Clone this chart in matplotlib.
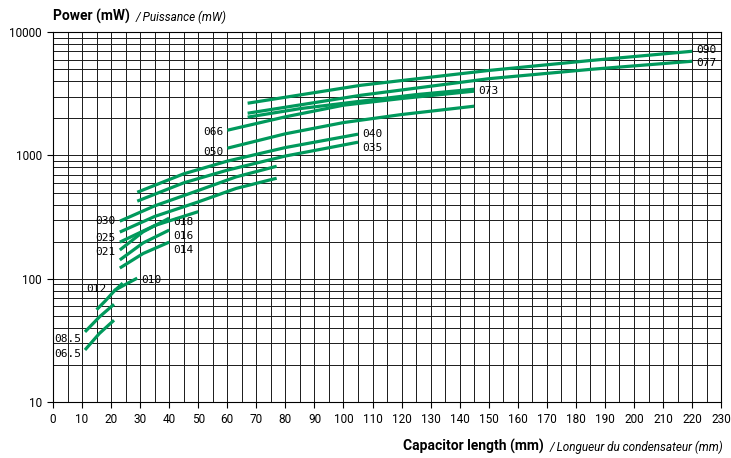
import matplotlib
matplotlib.use("Agg")
import matplotlib.pyplot as plt
import numpy as np
from matplotlib.ticker import FixedLocator, NullFormatter, LogLocator


GREEN = '#00995c'
SANS = [ 'Roboto', 'DejaVu Sans' ]

# capacitor length (mm) and power (mW) along each curve, by diameter
CURVEs = {
  '06.5': ( [ 11, 16, 21 ],            [ 26.4, 36, 46 ] ),
  '08.5': ( [ 11, 16, 21 ],            [ 37, 49, 62 ] ),
  '012':  ( [ 15, 18, 21, 24 ],        [ 56, 66, 79, 92 ] ),
  '010':  ( [ 21, 25, 29 ],            [ 80, 90, 101 ] ),
  '014':  ( [ 23, 31, 40 ],            [ 122, 160, 198 ] ),
  '016':  ( [ 23, 31, 40 ],            [ 142, 195, 248 ] ),
  '018':  ( [ 23, 31, 40 ],            [ 171, 240, 310 ] ),
  '021':  ( [ 23, 35, 50 ],            [ 198, 270, 350 ] ),
  '025':  ( [ 23, 35, 50, 63, 77 ],    [ 239, 320, 420, 540, 654 ] ),
  '030':  ( [ 23, 35, 50, 63, 77 ],    [ 293, 390, 520, 670, 818 ] ),
  '035':  ( [ 29, 45, 60, 80, 105 ],   [ 426, 600, 760, 990, 1282 ] ),
  '040':  ( [ 29, 45, 60, 80, 105 ],   [ 503, 710, 900, 1160, 1489 ] ),
  '050':  ( [ 60, 80, 100, 120, 145 ], [ 1146, 1500, 1850, 2150, 2513 ] ),
  '066':  ( [ 60, 80, 100, 120, 145 ], [ 1603, 2060, 2560, 2900, 3328 ] ),
  '073':  ( [ 67, 85, 106, 125, 145 ], [ 2047, 2400, 2760, 3120, 3451 ] ),
  '077':  ( [ 67, 106, 150, 185, 220 ], [ 2203, 3083, 4200, 5000, 5820 ] ),
  '090':  ( [ 67, 106, 150, 185, 220 ], [ 2656, 3715, 4900, 5900, 7013 ] ),
};

# which end of the curve carries its name, and a vertical nudge (points)
LABELs = {
  '06.5': ( 'start', -3 ), '08.5': ( 'start', -5 ), '012': ( 'end_left', -4 ),
  '010': ( 'end', -1 ),    '014': ( 'end', -6 ),    '016': ( 'end', -4 ),
  '018': ( 'end', -3 ),    '021': ( 'start', -7 ),  '025': ( 'start', -4 ),
  '030': ( 'start', 0 ),   '035': ( 'end', -4 ),    '040': ( 'end', 0 ),
  '050': ( 'start', -3 ),  '066': ( 'start', -1 ),  '073': ( 'end', -1 ),
  '077': ( 'end', -1 ),    '090': ( 'end', 1 ),
};

XTICKs = np.arange( 0, 231, 10 );
YTICKs = [ 10, 100, 1000, 10000 ];


def two_part( fig, x, y, bold, italic, align ):
  # a bold english caption followed by its italic french twin
  r = fig.canvas.get_renderer();
  inv = fig.transFigure.inverted();
  if align == 'left':
    t1 = fig.text( x, y, bold, fontsize=10, fontweight='bold', family=SANS,
                   ha='left', va='baseline' );
    x1 = inv.transform( ( t1.get_window_extent( r ).x1, 0 ) )[0];
    fig.text( x1 + 0.008, y, '/ ' + italic, fontsize=8.5, style='italic',
              family=SANS, ha='left', va='baseline' );
  else:
    t2 = fig.text( x, y, '/ ' + italic, fontsize=8.5, style='italic',
                   family=SANS, ha='right', va='baseline' );
    x0 = inv.transform( ( t2.get_window_extent( r ).x0, 0 ) )[0];
    fig.text( x0 - 0.008, y, bold, fontsize=10, fontweight='bold', family=SANS,
              ha='right', va='baseline' );


def main():

  fig = plt.figure( figsize=( 7.31, 4.58 ), dpi=100 );
  ax = fig.add_axes( [ 0.0725, 0.1225, 0.914, 0.807 ] );

  ax.set_yscale( 'log' );
  ax.set_xlim( 0, 230 );
  ax.set_ylim( 10, 10000 );

  # the grid: every 5 mm, every log minor step
  ax.xaxis.set_major_locator( FixedLocator( XTICKs ) );
  ax.xaxis.set_minor_locator( FixedLocator( np.arange( 5, 230, 10 ) ) );
  ax.yaxis.set_major_locator( FixedLocator( YTICKs ) );
  ax.yaxis.set_minor_locator( LogLocator( base=10, subs=np.arange( 2, 10 ) ) );
  ax.yaxis.set_minor_formatter( NullFormatter() );
  ax.set_yticklabels( [ str( v ) for v in YTICKs ] );

  ax.grid( True, which='both', color='#1a1a1a', linewidth=0.7 );
  ax.tick_params( which='minor', length=0 );
  ax.tick_params( which='major', length=4, width=0.8, direction='out',
                  labelsize=8.5, pad=4 );
  for lbl in ax.get_xticklabels() + ax.get_yticklabels():
    lbl.set_family( SANS );
  for s in ax.spines.values():
    s.set_linewidth( 0.8 );

  for name, ( xs, ps ) in CURVEs.items():
    ax.plot( xs, ps, color=GREEN, linewidth=2.3, solid_capstyle='butt', zorder=3 );
    side, dy = LABELs[ name ];
    if side == 'start':
      ax.annotate( name, ( xs[0], ps[0] ), xytext=( -3, dy ), textcoords='offset points',
                   ha='right', va='center', fontsize=8, family='DejaVu Sans Mono' );
    elif side == 'end_left':
      ax.annotate( name, ( xs[-1], ps[-1] ), xytext=( -12, dy ), textcoords='offset points',
                   ha='right', va='center', fontsize=8, family='DejaVu Sans Mono' );
    else:
      ax.annotate( name, ( xs[-1], ps[-1] ), xytext=( 3, dy ), textcoords='offset points',
                   ha='left', va='center', fontsize=8, family='DejaVu Sans Mono' );

  two_part( fig, 0.0725, 0.955, 'Power (mW)', 'Puissance (mW)', 'left' );
  two_part( fig, 0.989, 0.016, 'Capacitor length (mm)',
            'Longueur du condensateur (mm)', 'right' );

  fig.savefig( 'out.png', dpi=100 );


if __name__ == "__main__":

  main();
